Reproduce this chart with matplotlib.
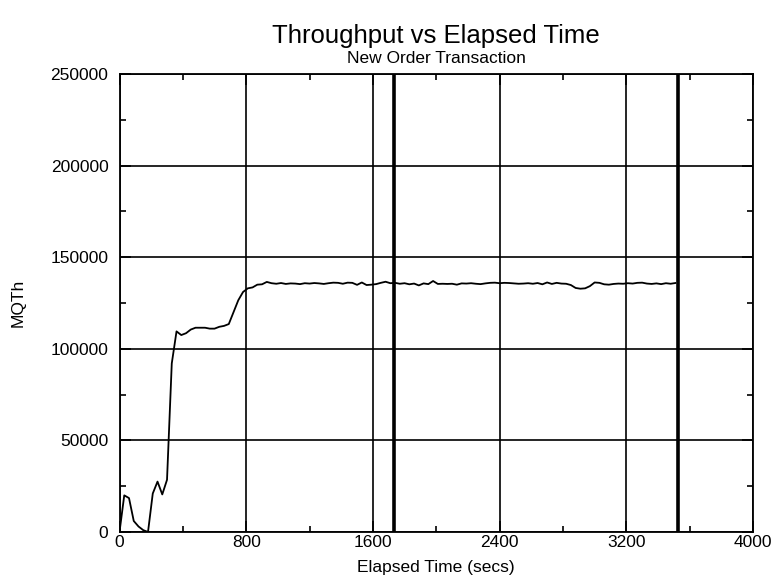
import numpy as np
import matplotlib
matplotlib.use('Agg')
import matplotlib.pyplot as plt
from matplotlib.ticker import MultipleLocator

plt.rcParams['font.family'] = ['Liberation Sans', 'DejaVu Sans']

# elapsed time (secs) and throughput (MQTh)
secs = list(range(0, 3511, 30))
mqth = [
    0, 20000, 18500, 6000, 3000, 1000, 0, 21000, 27500, 20500,
    28500, 92000, 109500, 107500, 108500, 110500, 111500, 111500, 111500, 111000,
    111000, 112000, 112500, 113500, 120000, 126500, 131000, 133000, 133500, 135000,
    135200, 136500,
    135800, 135500, 135900, 135400, 135700, 135600, 135300, 135800, 135600, 135900,
    135700, 135400, 135800, 136100, 136000, 135500, 136100, 136000, 134900, 136200,
    134800, 135000, 135300, 136000, 136600, 135800, 136000, 135500, 135800, 135200,
    135600, 134600, 135700, 135300, 137000, 135400, 135500, 135400, 135500, 135000,
    135700, 135600, 135800, 135500, 135300, 135700, 136000, 136100, 135800, 136000,
    135900, 135700, 135500, 135600, 135800, 135500, 135900, 135200, 136200, 135400,
    136000, 135600, 135500, 134800, 133200, 132800, 133000, 134200, 136200, 136000,
    135200, 135000, 135400, 135600, 135500, 135800, 135600, 136000, 136100, 135600,
    135400, 135700, 135300, 135800, 135500, 135900,
]
# start / end of the measurement interval
markers = [1732, 3525]

fig = plt.figure(figsize=(7.72, 5.79), dpi=100)
ax = fig.add_axes([0.1548, 0.0812, 0.8206, 0.791])

ax.plot(secs, mqth, color='black', lw=1.3)
for m in markers:
    ax.axvline(m, color='black', lw=2.6)

ax.set_xlim(0, 4000)
ax.set_ylim(0, 250000)
ax.xaxis.set_major_locator(MultipleLocator(800))
ax.xaxis.set_minor_locator(MultipleLocator(400))
ax.yaxis.set_major_locator(MultipleLocator(50000))
ax.yaxis.set_minor_locator(MultipleLocator(25000))
ax.grid(True, which='major', color='black', lw=1.2)
ax.tick_params(which='both', direction='in', top=True, right=True, labelsize=12.5,
               width=1.2, color='black')
ax.tick_params(which='major', length=8)
ax.tick_params(which='minor', length=4)
ax.tick_params(axis='x', pad=2)
ax.tick_params(axis='y', pad=8)
for s in ax.spines.values():
    s.set_linewidth(1.3)

ax.set_xlabel('Elapsed Time (secs)', fontsize=12.5)
ax.set_ylabel('MQTh', fontsize=12.5)
ax.xaxis.label.set_va('center')
ax.yaxis.label.set_va('center')
ax.xaxis.set_label_coords(0.5, -0.0775)
ax.yaxis.set_label_coords(-0.160, 0.5)
fig.text(0.565, 0.937, 'Throughput vs Elapsed Time', ha='center', va='center', fontsize=18.5)
fig.text(0.565, 0.899, 'New Order Transaction', ha='center', va='center', fontsize=12.5)

fig.savefig('out.png', dpi=100)
